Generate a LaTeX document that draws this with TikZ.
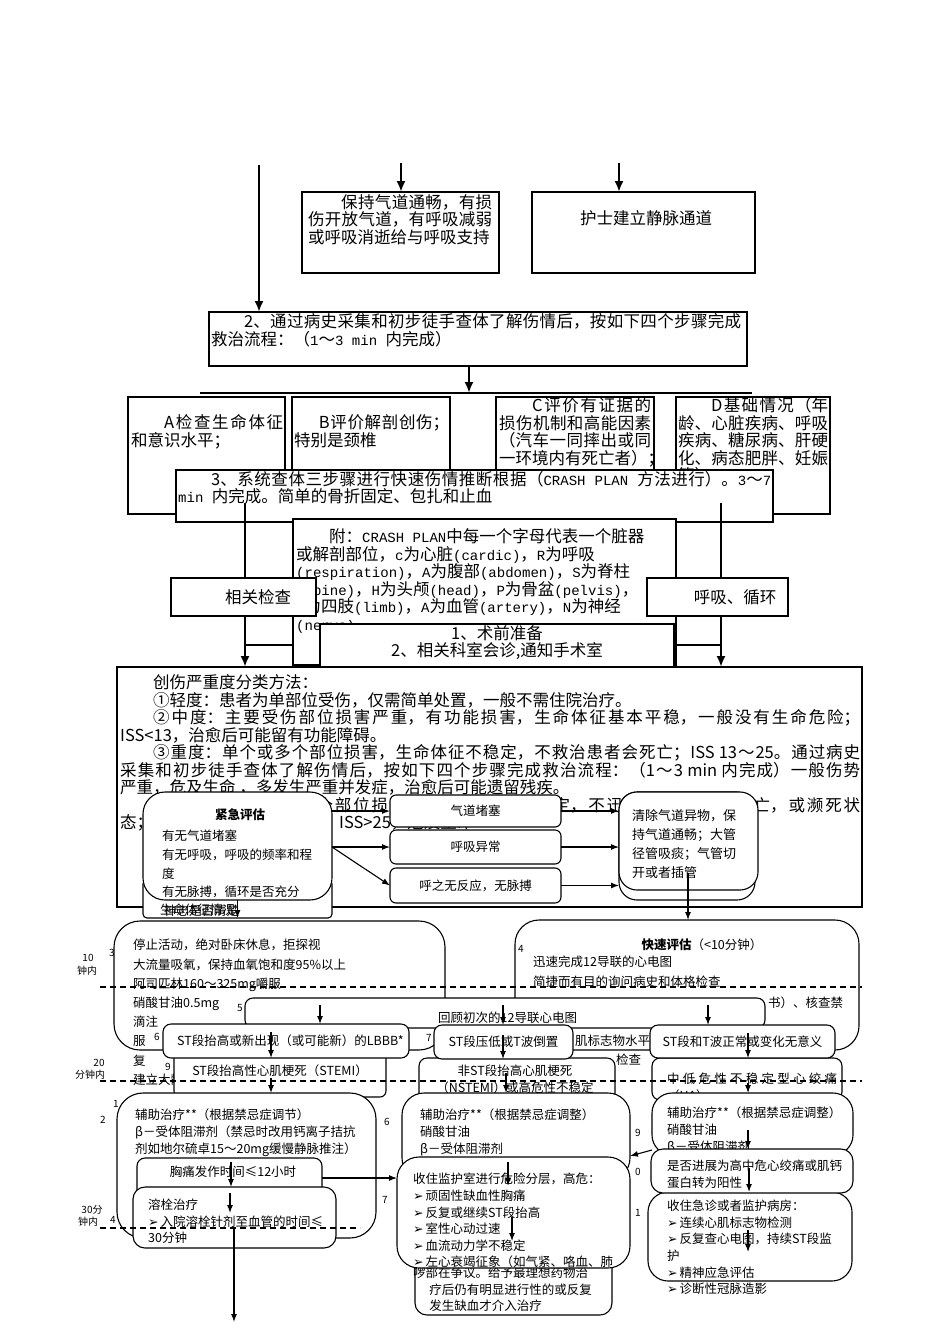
\documentclass[tikz,border=0pt]{standalone}
\usepackage{fontspec}
\setmainfont{Noto Sans CJK SC}
\newfontfamily\latfont{Liberation Mono}[Scale=0.85]
\newfontfamily\djv{DejaVu Sans}
\usetikzlibrary{arrows.meta}
\XeTeXlinebreaklocale "zh"
\XeTeXlinebreakskip=0pt plus 4pt
\newcommand{\bigfs}{\fontsize{16.5}{17.5}\selectfont}
\newcommand{\midfs}{\fontsize{12.5}{19.2}\selectfont}
\newcommand{\smfs}{\fontsize{12.5}{16.6}\selectfont}
\newcommand{\tipfs}{\fontsize{10}{12}\selectfont}
\newcommand{\bul}{{\djv ➢}\hspace{2pt}}

\begin{document}
\begin{tikzpicture}[x=1pt, y=-1pt,
  box/.style={draw, fill=white, line width=1.1pt, inner sep=0pt, outer sep=0pt, anchor=north west},
  rbox/.style={box, rounded corners=#1}, rbox/.default=16pt,
  txt/.style={inner sep=0pt, anchor=north west, align=justify},
  ltxt/.style={inner sep=0pt, anchor=north west, align=left},
  tag/.style={inner sep=0pt, font=\tipfs},
  flow/.style={line width=2.8pt, -{Latex[length=11pt,width=9pt]}},
  link/.style={line width=1.1pt, -{Latex[length=8pt,width=6pt]}},
  cut/.style={line width=1.1pt, dash pattern=on 6pt off 4pt}]
\fill[white] (0,0) rectangle (950,1344);
\useasboundingbox (0,0) rectangle (950,1344);

% top row
\coordinate (s1) at (259,165);
\coordinate (s2) at (401,163);
\coordinate (s3) at (619,163);
\node[box, minimum width=197pt, minimum height=81pt] (air) at (302,192) {};
\node[txt, text width=184pt, font=\bigfs] (airT) at (308,194) {\hspace*{2em}保持气道通畅，有损\linebreak 伤开放气道，有呼吸减弱\linebreak 或呼吸消逝给与呼吸支持};
\node[box, minimum width=223pt, minimum height=81pt] (vein) at (532,192) {};
\node[inner sep=0pt, anchor=west, font=\bigfs] (veinT) at (580,218) {护士建立静脉通道};
\node[box, minimum width=538pt, minimum height=54pt] (step2) at (209,312) {};
\node[txt, text width=530pt, font=\bigfs] (step2T) at (211,313.5) {\hspace*{2em}2、通过病史采集和初步徒手查体了解伤情后，按如下四个步骤完成\linebreak 救治流程：（{\latfont 1}～{\latfont 3 min }内完成）};
\draw[flow] (s1) -- (s1 |- step2.north);
\draw[flow] (s2) -- (s2 |- air.north);
\draw[flow] (s3) -- (s3 |- vein.north);

% four steps
\coordinate (barL) at (200,393);
\coordinate (barR) at (752,393);
\coordinate (barM) at (469,393);
\draw[flow] (barM |- step2.south) -- (barM);
\draw[line width=2.8pt] (barL) -- (barR);
\node[box, minimum width=157pt, minimum height=117pt] (stA) at (128,397) {};
\node[txt, text width=152pt, font=\bigfs] (stAT) at (131,414.5) {\hspace*{2em}A检查生命体征\linebreak 和意识水平；};
\node[box, minimum width=158pt, minimum height=117pt] (stB) at (292,397) {};
\node[txt, text width=155pt, font=\bigfs] (stBT) at (294,414.5) {\hspace*{1.5em}B评价解剖创伤；\linebreak 特别是颈椎};
\node[box, minimum width=158pt, minimum height=117pt] (stC) at (496,397) {};
\node[txt, text width=152pt, font=\bigfs] (stCT) at (499,397.5) {\hspace*{2em}C评价有证据的\linebreak 损伤机制和高能因素\linebreak （汽车一同摔出或同\linebreak 一环境内有死亡者）\rlap{；}};
\node[box, minimum width=154pt, minimum height=117pt] (stD) at (676,397) {};
\node[txt, text width=150pt, font=\bigfs] (stDT) at (678,397.5) {\hspace*{2em}D基础情况（年\linebreak 龄、心脏疾病、呼吸\linebreak 疾病、糖尿病、肝硬\linebreak 化、病态肥胖、妊娠\linebreak 等）};
\node[box, minimum width=597pt, minimum height=52pt] (crash) at (176,470) {};
\node[txt, text width=593pt, font=\bigfs] (crashT) at (178,471) {\hspace*{2em}3、系统查体三步骤进行快速伤情推断根据（{\latfont CRASH PLAN }方法进行）。{\latfont 3}～{\latfont 7}\linebreak {\latfont min }内完成。简单的骨折固定、包扎和止血};

\coordinate (lTop) at (245,503);
\coordinate (rTop) at (721,503);
\coordinate (lBot) at (245,645);
\coordinate (rBot) at (721,645);
\draw[line width=2.8pt] (lTop) -- (lBot) -- (rBot) -- (rTop);
\node[box, minimum width=383pt, minimum height=146pt] (note) at (293,519) {};
\node[ltxt, font=\bigfs] (noteT) at (296,528.5) {\hspace*{2em}附：{\latfont CRASH PLAN}中每一个字母代表一个脏器\\或解剖部位，{\latfont c}为心脏{\latfont (cardic)}，{\latfont R}为呼吸\\{\latfont (respiration)}，{\latfont A}为腹部{\latfont (abdomen)}，{\latfont S}为脊柱\\{\latfont (spine)}，{\latfont H}为头颅{\latfont (head)}，{\latfont P}为骨盆{\latfont (pelvis)}，\\{\latfont L}为四肢{\latfont (limb)}，{\latfont A}为血管{\latfont (artery)}，{\latfont N}为神经\\{\latfont (nerve)}};
\node[box, minimum width=145pt, minimum height=38pt] (exam) at (171,578) {};
\node[inner sep=0pt, font=\bigfs] (examT) at (258,597) {相关检查};
\node[box, minimum width=141pt, minimum height=38pt] (resp) at (647,578) {};
\node[inner sep=0pt, font=\bigfs] (respT) at (735,597) {呼吸、循环};
\node[box, minimum width=354pt, minimum height=54pt] (prep) at (320,624) {};
\node[inner sep=0pt, anchor=north, align=center, font=\bigfs] (prepT) at (497,625) {1、术前准备\\2、相关科室会诊,通知手术室};

% grading
\node[box, minimum width=745pt, minimum height=240pt] (grade) at (117,667) {};
\node[txt, text width=740pt, font=\bigfs] (gradeT) at (120,674.5) {\hspace*{2em}创伤严重度分类方法：\par
\hspace*{2em}①轻度：患者为单部位受伤，仅需简单处置，一般不需住院治疗。\par
\hspace*{2em}②中度：主要受伤部位损害严重，有功能损害，生命体征基本平稳，一般没有生命危险；\linebreak ISS<13，治愈后可能留有功能障碍。\par
\hspace*{2em}③重度：单个或多个部位损害，生命体征不稳定，不救治患者会死亡；ISS 13～25。通过病史\linebreak 采集和初步徒手查体了解伤情后，按如下四个步骤完成救治流程：（1～3 min 内完成）一般伤势\linebreak 严重，危及生命 ，多发生严重并发症，治愈后可能遗留残疾。\par
\hspace*{2em}④极重度：单个或多个部位损害，生命体征极不稳定，不迅速救治患者会死亡，或濒死状\linebreak 态；\hspace{186pt}ISS>25，危及生命};
\draw[flow] (lBot) -- (lBot |- grade.north);
\draw[flow] (rBot) -- (rBot |- grade.north);

% chest pain flow
\node[rbox=24pt, minimum width=344pt, minimum height=130pt] (quick) at (515,920) {};
\node[inner sep=0pt, font=\smfs] (quickH) at (702,945) {\textbf{快速评估}（<10分钟）};
\node[ltxt, font=\fontsize{12.5}{20}\selectfont] (quickT) at (533,956) {迅速完成12导联的心电图\\简捷而有目的询问病史和体格检查};
\node[inner sep=0pt, anchor=west, font=\smfs] (quickA) at (768,1003) {书）、核查禁};
\node[inner sep=0pt, anchor=west, font=\smfs] (quickB) at (575,1041) {肌标志物水平、};
\node[inner sep=0pt, anchor=west, font=\smfs] (quickC) at (616,1060) {检查};
\node[tag] (n4) at (521,949) {4};

\node[rbox=26pt, minimum width=331pt, minimum height=129pt] (stop) at (114,921) {};
\node[ltxt, font=\midfs] (stopT) at (133,939) {停止活动，绝对卧床休息，拒探视\\大流量吸氧，保持血氧饱和度95\%以上\\阿司匹林160～325mg嚼服\\硝酸甘油0.5mg\\滴注\\服\\复\\建立大静脉通道};
\node[tag] (n3) at (112,953) {3};

\node[box, rounded corners=4pt, minimum width=189pt, minimum height=38pt] (vital) at (143,880) {};
\node[inner sep=0pt, anchor=west, font=\smfs] (vitalA) at (160,910) {生命体征情况};
\node[inner sep=0pt, anchor=west, font=\smfs] (vitalB) at (164,911) {神志是否清楚};
\node[rbox=22pt, minimum width=189pt, minimum height=108pt] (emerg) at (143,792) {};
\node[inner sep=0pt, font=\bfseries\smfs] (emergH) at (240,815) {紧急评估};
\node[ltxt, font=\fontsize{12.5}{18.7}\selectfont] (emergT) at (162,830) {有无气道堵塞\\有无呼吸，呼吸的频率和程\\度\\有无脉搏，循环是否充分};

\node[rbox=6pt, minimum width=171pt, minimum height=32pt] (airway) at (390,795) {};
\node[inner sep=0pt, font=\smfs] (airwayT) at (airway.center) {气道堵塞};
\node[rbox=6pt, minimum width=171pt, minimum height=34pt] (breath) at (390,830) {};
\node[inner sep=0pt, font=\smfs] (breathT) at (breath.center) {呼吸异常};
\node[rbox=6pt, minimum width=171pt, minimum height=35pt] (pulse) at (390,868) {};
\node[inner sep=0pt, font=\smfs] (pulseT) at (pulse.center) {呼之无反应，无脉搏};

\node[rbox=18pt, minimum width=136pt, minimum height=108pt] (clear2) at (619,792) {};
\node[rbox=18pt, minimum width=139pt, minimum height=98pt] (clear) at (619,792) {};
\node[ltxt, font=\fontsize{13}{19.2}\selectfont] (clearT) at (632,809) {清除气道异物，保\\持气道通畅；大管\\径管吸痰；气管切\\开或者插管};

\node[rbox=8pt, minimum width=520pt, minimum height=30pt] (review) at (245,998) {};
\node[inner sep=0pt, anchor=west, font=\smfs] (reviewT) at (438,1018) {回顾初次的12导联心电图};
\node[tag] (n5) at (240,1008) {5};

\node[rbox=6pt, minimum width=212pt, minimum height=47pt] (stemi) at (174,1050) {};
\node[inner sep=0pt, font=\smfs] (stemiT) at (280,1071) {ST段抬高性心肌梗死（STEMI）};
\node[rbox=8pt, minimum width=246pt, minimum height=34pt] (lbbb) at (163,1024) {};
\node[inner sep=0pt, anchor=west, font=\smfs] (lbbbT) at (177,1041) {ST段抬高或新出现（或可能新）的LBBB*};
\node[tag] (n6) at (157,1037) {6};
\node[tag] (n9) at (168,1067) {9};

\node[rbox=8pt, minimum width=196pt, minimum height=45pt] (nstemi) at (419,1058) {};
\node[inner sep=0pt, align=center, font=\smfs] (nstemiT) at (515,1079) {非ST段抬高心肌梗死\\（NSTEMI）或高危性不稳定};
\node[rbox=8pt, minimum width=139pt, minimum height=34pt] (depr) at (434,1025) {};
\node[inner sep=0pt, font=\smfs] (deprT) at (depr.center) {ST段压低或T波倒置};
\node[tag] (n7) at (429,1038) {7};

\node[rbox=8pt, minimum width=190pt, minimum height=42pt] (ua) at (652,1058) {};
\node[txt, text width=170pt, font=\smfs] (uaT) at (667,1073) {中低危性不稳定型心绞痛\linebreak（UA）};
\node[rbox=8pt, minimum width=185pt, minimum height=33pt] (normal) at (650,1025) {};
\node[inner sep=0pt, font=\smfs] (normalT) at (normal.center) {ST段和T波正常或变化无意义};

% bottom row
\node[rbox=26pt, minimum width=259pt, minimum height=145pt] (aidL) at (117,1093) {};
\node[ltxt, font=\smfs] (aidLT) at (135,1109) {辅助治疗**（根据禁忌症调节）\\β－受体阻滞剂（禁忌时改用钙离子拮抗\\剂如地尔硫卓15～20mg缓慢静脉推注）};
\node[rbox=8pt, minimum width=185pt, minimum height=40pt] (chest) at (137,1158) {};
\node[inner sep=0pt, font=\smfs] (chestT) at (233,1172) {胸痛发作时间≤12小时};
\node[rbox=12pt, minimum width=203pt, minimum height=61pt] (lysis) at (133,1187) {};
\node[ltxt, font=\smfs] (lysisT) at (148,1199) {溶栓治疗\\\bul 入院溶栓针剂至血管的时间≤\\30分钟};

\node[rbox=12pt, minimum width=197pt, minimum height=70pt] (morph) at (415,1245) {};
\node[ltxt, font=\smfs] (morphT) at (413,1267) {啰部在争议。给予最理想药物治\\\hspace*{1.3em}疗后仍有明显进行性的或反复\\\hspace*{1.3em}发生缺血才介入治疗};
\node[rbox=22pt, minimum width=228pt, minimum height=87pt] (aidM) at (402,1093) {};
\node[ltxt, font=\smfs] (aidMT) at (420,1109) {辅助治疗**（根据禁忌症调整）\\硝酸甘油\\β－受体阻滞剂};
\node[rbox=22pt, minimum width=233pt, minimum height=111pt] (ccu) at (397,1157) {};
\node[ltxt, font=\smfs] (ccuT) at (413,1173) {收住监护室进行危险分层，高危：\\\bul 顽固性缺血性胸痛\\\bul 反复或继续ST段抬高\\\bul 室性心动过速\\\bul 血流动力学不稳定\\\bul 左心衰竭征象（如气紧、咯血、肺};

\node[rbox=20pt, minimum width=201pt, minimum height=62pt] (aidR) at (652,1093) {};
\node[ltxt, font=\smfs] (aidRT) at (667,1107) {辅助治疗**（根据禁忌症调整）\\硝酸甘油\\β－受体阻滞剂};
\node[rbox=20pt, minimum width=204pt, minimum height=89pt] (ward) at (648,1192) {};
\node[ltxt, font=\smfs] (wardT) at (667,1200) {收住急诊或者监护病房：\\\bul 连续心肌标志物检测\\\bul 反复查心电图，持续ST段监\\护\\\bul 精神应急评估\\\bul 诊断性冠脉造影};
\node[rbox=12pt, minimum width=202pt, minimum height=44pt] (prog) at (651,1149) {};
\node[ltxt, font=\smfs] (progT) at (667,1160) {是否进展为高中危心绞痛或肌钙\\蛋白转为阳性};

% side marks
\node[tag] (t10a) at (88,958) {10};
\node[tag] (t10b) at (87,971) {钟内};
\node[tag] (t20a) at (99,1063) {20};
\node[tag] (t20b) at (90,1075) {分钟内};
\node[tag] (t1) at (116,1104) {1};
\node[tag] (t2) at (103,1120) {2};
\node[tag] (t30a) at (92,1210) {30分};
\node[tag] (t30b) at (88,1222) {钟内};
\node[tag] (t4) at (113,1220) {4};
\node[tag] (t6b) at (387,1122) {6};
\node[tag] (t7b) at (385,1200) {7};
\node[tag] (t9r) at (638,1133) {9};
\node[tag] (t0r) at (638,1172) {0};
\node[tag] (t1r) at (638,1213) {1};

% connectors
\draw[link] (emerg.south) -- (vital.south);
\draw[link] (emerg.east |- airway.west) -- (airway.west);
\draw[link] (emerg.east |- breath.west) -- (breath.west);
\draw[link] (emerg.east |- breath.west) -- (pulse.west);
\draw[link] (airway.east) -- (airway.east -| clear.west);
\draw[link] (breath.east) -- (breath.east -| clear.west);
\draw[link] (pulse.east) -- (pulse.east -| clear.west);
\coordinate (clearIn) at (688,873);
\draw[link] (clearIn) -- (clearIn |- quick.north);
\coordinate (rv1) at (320,1005);
\coordinate (rv2) at (503,1005);
\coordinate (rv3) at (708,1005);
\draw[link] (rv1) -- (rv1 |- lbbb.north);
\draw[link] (rv2) -- (rv2 |- depr.north);
\draw[link] (rv3) -- (rv3 |- normal.north);
\coordinate (d6) at (271,1032);
\coordinate (d9) at (271,1078);
\coordinate (d7) at (503,1035);
\coordinate (dn) at (506,1073);
\coordinate (dt) at (748,1033);
\coordinate (du) at (748,1083);
\draw[link] (d6) -- (d6 |- lbbb.south);
\draw[link] (d9) -- (d9 |- aidL.north);
\draw[link] (d7) -- (d7 |- depr.south);
\draw[link] (dn) -- (dn |- aidM.north);
\draw[link] (dt) -- (dt |- normal.south);
\draw[link] (du) -- (du |- aidR.north);
\coordinate (dc) at (231,1162);
\coordinate (dl) at (230,1193);
\coordinate (dlEnd) at (230,1213);
\coordinate (out) at (234,1228);
\coordinate (outEnd) at (234,1322);
\draw[link] (dc) -- (dc |- lysis.north);
\draw[link] (dl) -- (dlEnd);
\draw[link] (out) -- (outEnd);
\draw[link] (chest.east) -- (chest.east -| ccu.west);
\coordinate (cc1) at (508,1162);
\coordinate (cc1e) at (508,1186);
\coordinate (cc2) at (512,1217);
\coordinate (cc2e) at (512,1241);
\draw[link] (cc1) -- (cc1e);
\draw[link] (cc2) -- (cc2e);
\coordinate (ar1) at (748,1130);
\coordinate (pg) at (749,1168);
\coordinate (wd) at (748,1230);
\coordinate (wde) at (748,1252);
\draw[link] (ar1) -- (ar1 |- prog.north);
\draw[link] (pg) -- (pg |- ward.north);
\draw[link] (wd) -- (wde);
\coordinate (r2m) at (652,1150);
\coordinate (m2r) at (630,1156);
\draw[link] (r2m) -- (m2r);

% time lines
\coordinate (c1a) at (100,987);
\coordinate (c1b) at (862,987);
\coordinate (c2a) at (100,1081);
\coordinate (c2b) at (862,1081);
\coordinate (c3a) at (100,1228);
\coordinate (c3b) at (360,1228);
\draw[cut] (c1a) -- (c1b);
\draw[cut] (c2a) -- (c2b);
\draw[cut] (c3a) -- (c3b);
\end{tikzpicture}
\end{document}
